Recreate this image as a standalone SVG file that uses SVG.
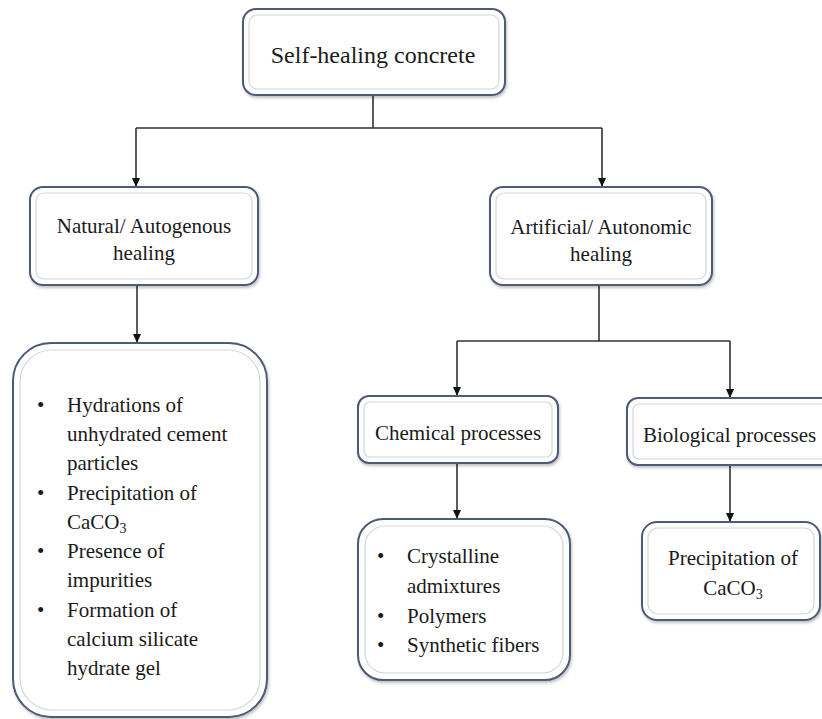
<svg xmlns="http://www.w3.org/2000/svg" width="822" height="719" viewBox="0 0 822 719">
<defs>
<style>
.box{fill:#ffffff;stroke:#4f5a78;stroke-width:2}
.inner{fill:none;stroke:#d3d6dc;stroke-width:1.2}
.t{font-family:'Liberation Serif','Times New Roman',serif;font-size:21px;fill:#1a1a1a}
.c{text-anchor:middle}
.sub{font-size:14px}
.conn{stroke:#333;stroke-width:1.6;fill:none}
</style>
<marker id="ah" markerUnits="userSpaceOnUse" markerWidth="10" markerHeight="10" refX="9" refY="5" orient="auto" viewBox="0 0 10 10">
<path d="M0,1 L9,5 L0,9 Z" fill="#111"/>
</marker>
<filter id="sh" x="-10%" y="-10%" width="120%" height="125%">
<feGaussianBlur in="SourceAlpha" stdDeviation="1.5"/>
<feOffset dx="1" dy="2" result="o"/>
<feComponentTransfer><feFuncA type="linear" slope="0.25"/></feComponentTransfer>
<feMerge><feMergeNode/><feMergeNode in="SourceGraphic"/></feMerge>
</filter>
</defs>
<rect width="822" height="719" fill="#ffffff"/>

<g id="connectors">
<path class="conn" d="M373,95 V128 M136,128 H602"/>
<path class="conn" d="M136,128 V187" marker-end="url(#ah)"/>
<path class="conn" d="M602,128 V187" marker-end="url(#ah)"/>
<path class="conn" d="M137,285 V343" marker-end="url(#ah)"/>
<path class="conn" d="M599,285 V341 M457,341 H730"/>
<path class="conn" d="M457,341 V396" marker-end="url(#ah)"/>
<path class="conn" d="M730,341 V398" marker-end="url(#ah)"/>
<path class="conn" d="M457,463 V519" marker-end="url(#ah)"/>
<path class="conn" d="M730,465 V522" marker-end="url(#ah)"/>
</g>

<g id="self-healing">
<rect class="box" filter="url(#sh)" x="243" y="9" width="262" height="86" rx="13"/>
<rect class="inner" x="249" y="15" width="250" height="74" rx="8"/>
<text class="t c" x="373" y="63" style="font-size:24px">Self-healing concrete</text>
</g>

<g id="natural">
<rect class="box" filter="url(#sh)" x="30" y="187" width="228" height="98" rx="13"/>
<rect class="inner" x="36" y="193" width="216" height="86" rx="8"/>
<text class="t c" x="144" y="233">Natural/ Autogenous</text>
<text class="t c" x="144" y="260">healing</text>
</g>

<g id="artificial">
<rect class="box" filter="url(#sh)" x="490" y="187" width="222" height="98" rx="13"/>
<rect class="inner" x="496" y="193" width="210" height="86" rx="8"/>
<text class="t c" x="601" y="234">Artificial/ Autonomic</text>
<text class="t c" x="601" y="261">healing</text>
</g>

<g id="chemical">
<rect class="box" filter="url(#sh)" x="358" y="396" width="200" height="67" rx="11"/>
<rect class="inner" x="364" y="402" width="188" height="55" rx="6"/>
<text class="t c" x="458" y="440">Chemical processes</text>
</g>

<g id="biological">
<rect class="box" filter="url(#sh)" x="627" y="398" width="215" height="67" rx="11"/>
<rect class="inner" x="633" y="404" width="203" height="55" rx="6"/>
<text class="t" x="643" y="442">Biological processes</text>
</g>

<g id="autogenous-list">
<rect class="box" filter="url(#sh)" x="13" y="343" width="254" height="374" rx="38"/>
<rect class="inner" x="20" y="350" width="240" height="360" rx="32"/>
<text class="t" x="37" y="412">•</text>
<text class="t" x="67" y="412">Hydrations of</text>
<text class="t" x="67" y="441">unhydrated cement</text>
<text class="t" x="67" y="470">particles</text>
<text class="t" x="37" y="500">•</text>
<text class="t" x="67" y="500">Precipitation of</text>
<text class="t" x="67" y="529">CaCO<tspan class="sub" dy="4">3</tspan></text>
<text class="t" x="37" y="558">•</text>
<text class="t" x="67" y="558">Presence of</text>
<text class="t" x="67" y="587">impurities</text>
<text class="t" x="37" y="617">•</text>
<text class="t" x="67" y="617">Formation of</text>
<text class="t" x="67" y="646">calcium silicate</text>
<text class="t" x="67" y="675">hydrate gel</text>
</g>

<g id="chemical-list">
<rect class="box" filter="url(#sh)" x="358" y="519" width="212" height="161" rx="25"/>
<rect class="inner" x="365" y="526" width="198" height="147" rx="20"/>
<text class="t" x="377" y="563">•</text>
<text class="t" x="407" y="563">Crystalline</text>
<text class="t" x="407" y="593">admixtures</text>
<text class="t" x="377" y="623">•</text>
<text class="t" x="407" y="623">Polymers</text>
<text class="t" x="377" y="652">•</text>
<text class="t" x="407" y="652">Synthetic fibers</text>
</g>

<g id="biological-result">
<rect class="box" filter="url(#sh)" x="642" y="522" width="178" height="98" rx="15"/>
<rect class="inner" x="648" y="528" width="166" height="86" rx="10"/>
<text class="t c" x="733" y="565">Precipitation of</text>
<text class="t c" x="733" y="595">CaCO<tspan class="sub" dy="4">3</tspan></text>
</g>
</svg>
